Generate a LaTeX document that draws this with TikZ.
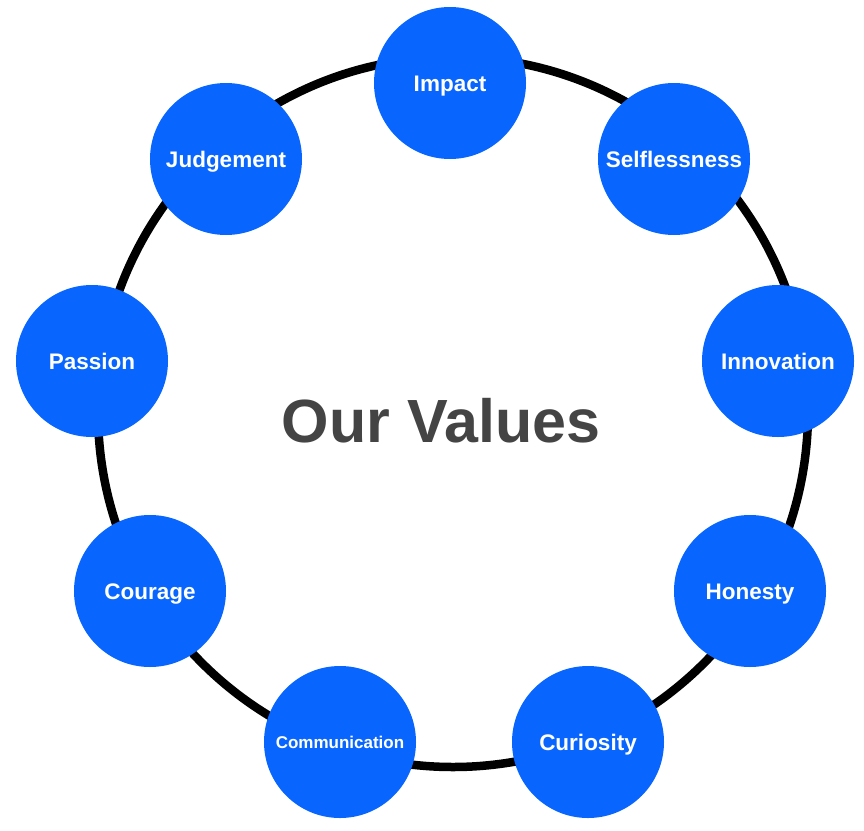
\documentclass[tikz,border=0pt]{standalone}
\usepackage{fontspec}
\setmainfont{Liberation Sans}
\definecolor{valblue}{HTML}{0866FF}
\definecolor{titlegray}{HTML}{444444}
\tikzset{
  valuedot/.style={circle, fill=valblue, minimum size=152pt, inner sep=0pt, outer sep=0pt},
  valuetext/.style={text=white, font=\bfseries\fontsize{22.5}{24}\selectfont, text height=16.1pt, text depth=0pt, inner sep=0pt, anchor=center},
  ringline/.style={circle, draw=black, line width=8.5pt, minimum size=710pt, inner sep=0pt}
}
\begin{document}
\begin{tikzpicture}[x=1pt,y=-1pt]
\useasboundingbox[fill=white] (0,0) rectangle (864,830);
\node[ringline] (ring) at (453,412) {};
\node[font=\bfseries\fontsize{61}{66}\selectfont, text=titlegray, text height=43.7pt, text depth=0pt, inner sep=0pt] (title) at (441,420.5) {Our Values};
\node[valuedot] (impact) at (450,83) {};
\node[valuedot] (selfl) at (674,159) {};
\node[valuedot] (innov) at (778,361) {};
\node[valuedot] (honesty) at (750,591) {};
\node[valuedot] (curio) at (588,742) {};
\node[valuedot] (comm) at (340,742) {};
\node[valuedot] (courage) at (150,591) {};
\node[valuedot] (passion) at (92,361) {};
\node[valuedot] (judge) at (226,159) {};
\node[valuetext] (impactt) at (impact.center) {Impact};
\node[valuetext] (selflt) at (selfl.center) {Selflessness};
\node[valuetext] (innovt) at (innov.center) {Innovation};
\node[valuetext] (honestyt) at (honesty.center) {Honesty};
\node[valuetext] (curiot) at (curio.center) {Curiosity};
\node[valuetext, font=\bfseries\fontsize{17}{19}\selectfont, text height=12.2pt] (commt) at (comm.center) {Communication};
\node[valuetext] (couraget) at (courage.center) {Courage};
\node[valuetext] (passiont) at (passion.center) {Passion};
\node[valuetext] (judget) at (judge.center) {Judgement};
\end{tikzpicture}
\end{document}
